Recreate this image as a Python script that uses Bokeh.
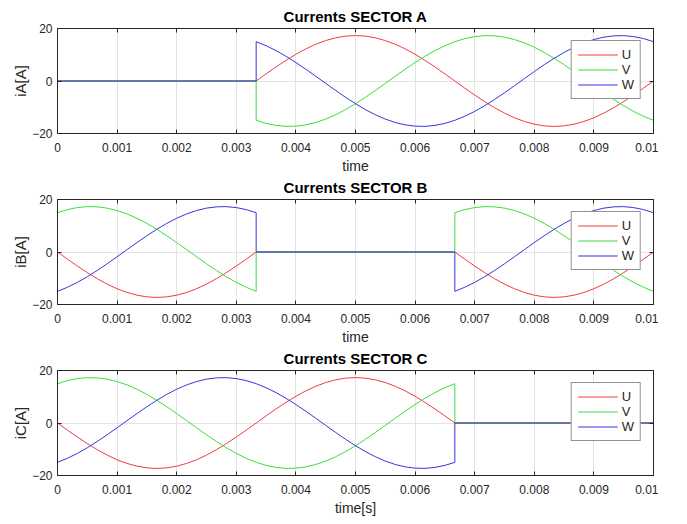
from bokeh.plotting import figure
from bokeh.models import (Range1d, FixedTicker, LinearAxis, CustomLabelingPolicy, Spacer)
from bokeh.layouts import column, row
from bokeh.embed import file_html
from bokeh.resources import INLINE
import numpy as np

# sample times [s] (61 samples over 0..0.01 s)
time_s = list(np.linspace(0.0, 0.01, 61))

# phase currents [A]
U = [0, -2.71, -5.35, -7.85, -10.17, -12.23, -14.00, -15.41, -16.45, -17.09,
     -17.30, -17.09, -16.45, -15.41, -14.00, -12.23, -10.17, -7.85, -5.35, -2.71,
     0, 2.71, 5.35, 7.85, 10.17, 12.23, 14.00, 15.41, 16.45, 17.09,
     17.30, 17.09, 16.45, 15.41, 14.00, 12.23, 10.17, 7.85, 5.35, 2.71,
     0, -2.71, -5.35, -7.85, -10.17, -12.23, -14.00, -15.41, -16.45, -17.09,
     -17.30, -17.09, -16.45, -15.41, -14.00, -12.23, -10.17, -7.85, -5.35, -2.71, 0]
V = [14.98, 16.15, 16.92, 17.28, 17.20, 16.71, 15.80, 14.51, 12.86, 10.89,
     8.65, 6.20, 3.60, 0.90, -1.81, -4.48, -7.04, -9.42, -11.58, -13.44,
     -14.98, -16.15, -16.92, -17.28, -17.20, -16.71, -15.80, -14.51, -12.86, -10.89,
     -8.65, -6.20, -3.60, -0.90, 1.81, 4.48, 7.04, 9.42, 11.58, 13.44,
     14.98, 16.15, 16.92, 17.28, 17.20, 16.71, 15.80, 14.51, 12.86, 10.89,
     8.65, 6.20, 3.60, 0.90, -1.81, -4.48, -7.04, -9.42, -11.58, -13.44, -14.98]
W = [-14.98, -13.44, -11.58, -9.42, -7.04, -4.48, -1.81, 0.90, 3.60, 6.20,
     8.65, 10.89, 12.86, 14.51, 15.80, 16.71, 17.20, 17.28, 16.92, 16.15,
     14.98, 13.44, 11.58, 9.42, 7.04, 4.48, 1.81, -0.90, -3.60, -6.20,
     -8.65, -10.89, -12.86, -14.51, -15.80, -16.71, -17.20, -17.28, -16.92, -16.15,
     -14.98, -13.44, -11.58, -9.42, -7.04, -4.48, -1.81, 0.90, 3.60, 6.20,
     8.65, 10.89, 12.86, 14.51, 15.80, 16.71, 17.20, 17.28, 16.92, 16.15, 14.98]

# conduction windows: sample-index boundaries and on/off per sector
segment_bounds = [0, 20, 40, 60]
sector_on = {"A": [False, True, True], "B": [True, False, True], "C": [True, True, False]}
y_labels = {"A": "iA[A]", "B": "iB[A]", "C": "iC[A]"}
x_labels = {"A": "time", "B": "time", "C": "time[s]"}

x_tick_vals = [0, 0.001, 0.002, 0.003, 0.004, 0.005, 0.006, 0.007, 0.008, 0.009, 0.01]
x_tick_labels = ["0", "0.001", "0.002", "0.003", "0.004", "0.005", "0.006",
                 "0.007", "0.008", "0.009", "0.01"]
y_tick_vals = [-20, 0, 20]

phase_names = ["U", "V", "W"]
phase_vals = [U, V, W]
phase_colors = ["#ee3b45", "#3ddc3d", "#3535e0"]

FONT = "Liberation Sans"
DARK = "#262626"


def gate(vals, on):
    xs, ys = [], []
    for (a, b), active in zip(zip(segment_bounds[:-1], segment_bounds[1:]), on):
        if active:
            xs += [float(v) for v in time_s[a:b + 1]]
            ys += [float(v) for v in vals[a:b + 1]]
        else:
            xs += [float(time_s[a]), float(time_s[b])]
            ys += [0.0, 0.0]
    return xs, ys


def style_axis(ax):
    ax.axis_line_color = DARK
    ax.major_tick_line_color = DARK
    ax.major_tick_in = 4
    ax.major_tick_out = 0
    ax.minor_tick_in = 0
    ax.minor_tick_out = 0
    ax.major_label_text_font = FONT
    ax.major_label_text_font_size = "12px"
    ax.major_label_text_color = DARK
    ax.axis_label_text_font = FONT
    ax.axis_label_text_font_size = "14px"
    ax.axis_label_text_font_style = "normal"
    ax.axis_label_text_color = DARK


def make_fig(sec):
    p = figure(frame_width=596, frame_height=105,
               x_range=Range1d(0, 0.01), y_range=Range1d(-20, 20),
               output_backend="svg", toolbar_location=None,
               min_border=0, title="Currents SECTOR " + sec)
    p.title.text_font = FONT
    p.title.text_font_size = "15px"
    p.title.text_font_style = "bold"
    p.title.text_color = "black"
    p.title.align = "center"
    p.title.standoff = 0
    p.title.offset = 0

    p.outline_line_color = DARK
    p.outline_line_width = 1

    xt = FixedTicker(ticks=x_tick_vals)
    yt = FixedTicker(ticks=y_tick_vals)
    p.xaxis.ticker = xt
    p.yaxis.ticker = yt
    p.xaxis.major_label_overrides = dict(zip(x_tick_vals, x_tick_labels))
    p.xaxis.axis_label = x_labels[sec]
    p.yaxis.axis_label = y_labels[sec]
    for ax in p.xaxis + p.yaxis:
        style_axis(ax)
    p.xaxis.major_label_standoff = 9
    p.xaxis.axis_label_standoff = 3
    p.yaxis.major_label_standoff = 5
    p.yaxis.axis_label_standoff = 0
    p.yaxis.axis_label_text_font_size = "15px"

    p.xgrid.ticker = xt
    p.ygrid.ticker = yt
    p.xgrid.grid_line_color = "#e3e3e3"
    p.ygrid.grid_line_color = "#e3e3e3"

    no_labels = CustomLabelingPolicy(code="return new Set()")
    top = LinearAxis(ticker=xt)
    right = LinearAxis(ticker=yt)
    for ax in (top, right):
        style_axis(ax)
        ax.major_label_policy = no_labels
        ax.major_label_text_font_size = "1px"
        ax.major_label_standoff = 0
    p.add_layout(top, "above")
    p.add_layout(right, "right")

    for name, vals, col in zip(phase_names, phase_vals, phase_colors):
        xs, ys = gate(vals, sector_on[sec])
        p.line(x=xs, y=ys, line_color=col, line_width=1, legend_label=name)

    leg = p.legend[0]
    leg.location = "top_right"
    leg.margin = 12
    leg.padding = 6
    leg.spacing = 0
    leg.glyph_width = 40
    leg.glyph_height = 15
    leg.label_height = 15
    leg.label_width = 10
    leg.label_standoff = 4
    leg.label_text_font = FONT
    leg.label_text_font_size = "13px"
    leg.label_text_color = DARK
    leg.border_line_color = DARK
    leg.border_line_width = 1
    leg.background_fill_color = "white"
    leg.background_fill_alpha = 1
    return p


pA = make_fig("A")
pB = make_fig("B")
pC = make_fig("C")

layout = row(Spacer(width=9, height=10),
             column(Spacer(width=10, height=5), pA, pB, pC, spacing=0),
             spacing=0)
open("out.html", "w").write(file_html(layout, INLINE))
